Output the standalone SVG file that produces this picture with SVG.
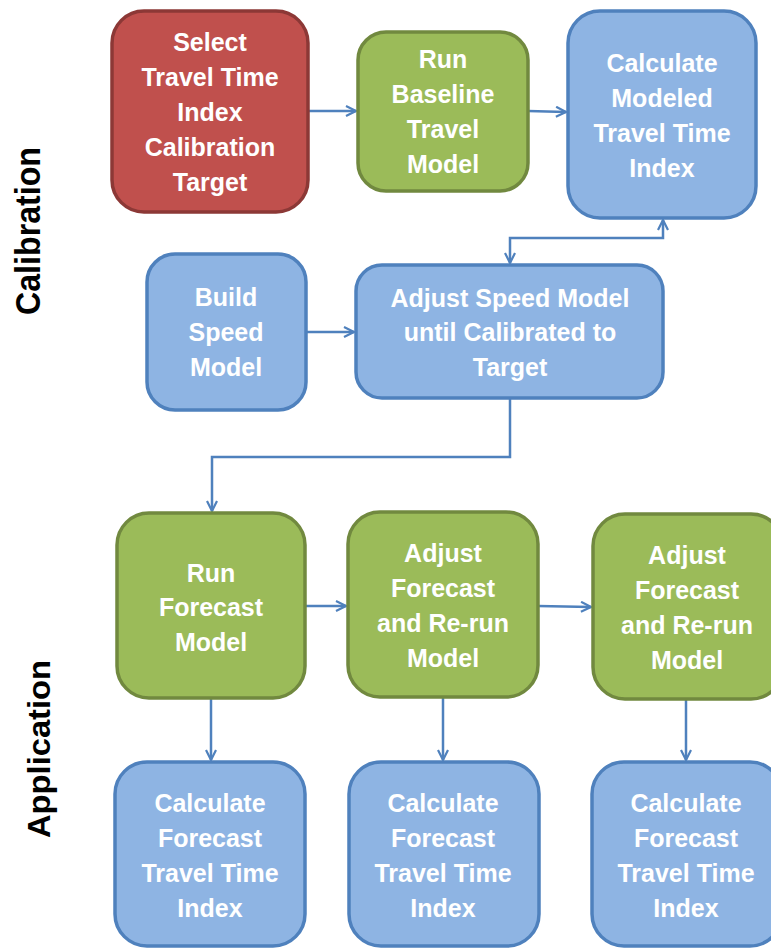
<svg xmlns="http://www.w3.org/2000/svg" width="771" height="949" viewBox="0 0 771 949">
<style>
.red{fill:#C0504D;stroke:#8C3836;stroke-width:3.5}
.grn{fill:#9BBB59;stroke:#71893F;stroke-width:3.5}
.blu{fill:#8EB4E3;stroke:#4F81BD;stroke-width:3.5}
.t{font-family:"Liberation Sans",Arial,sans-serif;font-weight:bold;font-size:25px;fill:#FFFFFF;text-anchor:middle}
.side{font-family:"Liberation Sans",Arial,sans-serif;font-weight:bold;fill:#000000;text-anchor:middle}
.c{fill:none;stroke:#4F81BD;stroke-width:2.5}
</style>
<defs>
<marker id="ah" viewBox="0 0 12 12" refX="11" refY="6" markerWidth="12" markerHeight="12" markerUnits="userSpaceOnUse" orient="auto-start-reverse">
<path d="M1,1 L11,6 L1,11" fill="none" stroke="#4F81BD" stroke-width="2.2"/>
</marker>
</defs>
<rect width="771" height="949" fill="#FFFFFF"/>
<text class="side" font-size="35" textLength="168" lengthAdjust="spacingAndGlyphs" transform="translate(40,231) rotate(-90)">Calibration</text>
<text class="side" font-size="32" textLength="178" lengthAdjust="spacingAndGlyphs" transform="translate(50,749) rotate(-90)">Application</text>
<g id="connectors">
<path class="c" d="M308,111 L356,111" marker-end="url(#ah)"/>
<path class="c" d="M528,111 L566,112" marker-end="url(#ah)"/>
<path class="c" d="M510,263 L510,238 L663,238 L663,220" marker-start="url(#ah)" marker-end="url(#ah)"/>
<path class="c" d="M306,332 L354,332" marker-end="url(#ah)"/>
<path class="c" d="M510,398 L510,457 L212,457 L212,511" marker-end="url(#ah)"/>
<path class="c" d="M305,606 L346,606" marker-end="url(#ah)"/>
<path class="c" d="M538,606 L591,607" marker-end="url(#ah)"/>
<path class="c" d="M211,698 L211,760" marker-end="url(#ah)"/>
<path class="c" d="M443,697 L443,760" marker-end="url(#ah)"/>
<path class="c" d="M686,699 L686,760" marker-end="url(#ah)"/>
</g>
<g id="n1"><rect class="red" x="112" y="11" width="196" height="201" rx="32"/>
<text class="t" x="210" y="51">Select</text><text class="t" x="210" y="86">Travel Time</text><text class="t" x="210" y="121">Index</text><text class="t" x="210" y="156">Calibration</text><text class="t" x="210" y="191">Target</text></g>
<g id="n2"><rect class="grn" x="358" y="32" width="170" height="159" rx="28"/>
<text class="t" x="443" y="68">Run</text><text class="t" x="443" y="103">Baseline</text><text class="t" x="443" y="138">Travel</text><text class="t" x="443" y="173">Model</text></g>
<g id="n3"><rect class="blu" x="568" y="11" width="188" height="207" rx="32"/>
<text class="t" x="662" y="72">Calculate</text><text class="t" x="662" y="107">Modeled</text><text class="t" x="662" y="142">Travel Time</text><text class="t" x="662" y="177">Index</text></g>
<g id="n4"><rect class="blu" x="147" y="254" width="159" height="156" rx="28"/>
<text class="t" x="226" y="306">Build</text><text class="t" x="226" y="341">Speed</text><text class="t" x="226" y="376">Model</text></g>
<g id="n5"><rect class="blu" x="356" y="265" width="307" height="133" rx="26"/>
<text class="t" x="510" y="307">Adjust Speed Model</text><text class="t" x="510" y="341">until Calibrated to</text><text class="t" x="510" y="376">Target</text></g>
<g id="n6"><rect class="grn" x="117" y="513" width="188" height="185" rx="32"/>
<text class="t" x="211" y="582">Run</text><text class="t" x="211" y="616">Forecast</text><text class="t" x="211" y="651">Model</text></g>
<g id="n7"><rect class="grn" x="348" y="512" width="190" height="185" rx="32"/>
<text class="t" x="443" y="562">Adjust</text><text class="t" x="443" y="597">Forecast</text><text class="t" x="443" y="632">and Re-run</text><text class="t" x="443" y="667">Model</text></g>
<g id="n8"><rect class="grn" x="593" y="514" width="190" height="185" rx="32"/>
<text class="t" x="687" y="564">Adjust</text><text class="t" x="687" y="599">Forecast</text><text class="t" x="687" y="634">and Re-run</text><text class="t" x="687" y="669">Model</text></g>
<g id="n9"><rect class="blu" x="115" y="762" width="190" height="184" rx="32"/>
<text class="t" x="210" y="812">Calculate</text><text class="t" x="210" y="847">Forecast</text><text class="t" x="210" y="882">Travel Time</text><text class="t" x="210" y="917">Index</text></g>
<g id="n10"><rect class="blu" x="349" y="762" width="190" height="184" rx="32"/>
<text class="t" x="443" y="812">Calculate</text><text class="t" x="443" y="847">Forecast</text><text class="t" x="443" y="882">Travel Time</text><text class="t" x="443" y="917">Index</text></g>
<g id="n11"><rect class="blu" x="592" y="762" width="190" height="184" rx="32"/>
<text class="t" x="686" y="812">Calculate</text><text class="t" x="686" y="847">Forecast</text><text class="t" x="686" y="882">Travel Time</text><text class="t" x="686" y="917">Index</text></g>
</svg>
